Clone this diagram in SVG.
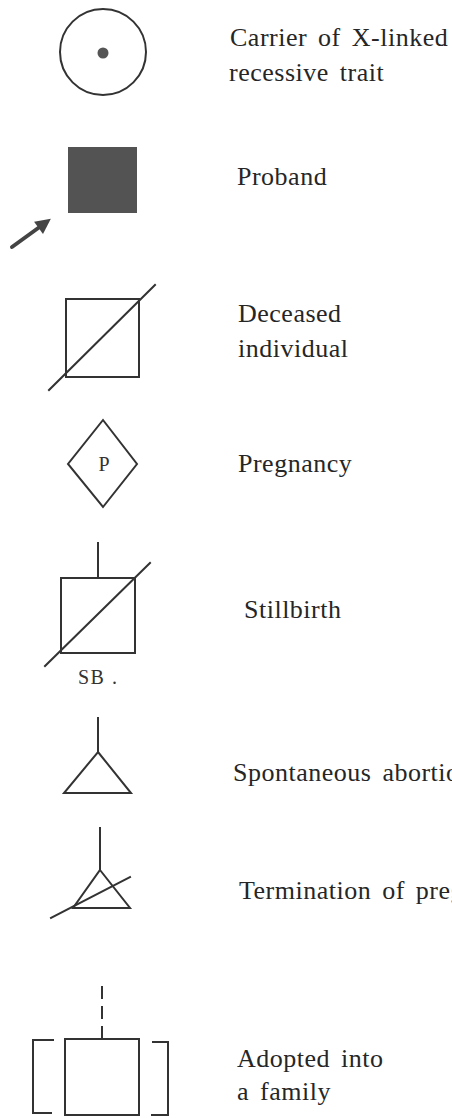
<svg xmlns="http://www.w3.org/2000/svg" width="452" height="1118" viewBox="0 0 452 1118">
<defs>
<style>
.sym{fill:none;stroke:#333;stroke-width:2;stroke-linecap:square}
.lbl{font-family:"Liberation Serif","Times New Roman",serif;font-size:26px;fill:#262626;letter-spacing:0.5px;word-spacing:4px}
.sm{font-family:"Liberation Serif","Times New Roman",serif;font-size:20px;fill:#333}
</style>
<marker id="ah" viewBox="0 0 10 10" refX="2" refY="5" markerWidth="4.5" markerHeight="3.8" orient="auto" markerUnits="strokeWidth">
<path d="M0,0 L10,5 L0,10 z" fill="#444"/>
</marker>
</defs>
<rect width="452" height="1118" fill="#fff"/>
<g id="connectors"></g>
<g id="carrier">
<circle class="sym" cx="103" cy="52" r="43"/>
<circle cx="103" cy="53" r="5.5" fill="#555"/>
<text class="lbl" x="230" y="46">Carrier of X-linked</text>
<text class="lbl" x="229" y="81">recessive trait</text>
</g>
<g id="proband">
<rect x="68" y="147" width="69" height="66" fill="#535353"/>
<line x1="12" y1="247" x2="41" y2="226" stroke="#444" stroke-width="4" stroke-linecap="round" marker-end="url(#ah)"/>
<text class="lbl" x="237" y="185">Proband</text>
</g>
<g id="deceased">
<rect class="sym" x="66" y="299" width="73" height="78"/>
<line class="sym" x1="49" y1="390" x2="155" y2="285"/>
<text class="lbl" x="238" y="322">Deceased</text>
<text class="lbl" x="238" y="357">individual</text>
</g>
<g id="pregnancy">
<polygon class="sym" points="103,420 137,464 103,507 68,464"/>
<text class="sm" x="104" y="471" text-anchor="middle">P</text>
<text class="lbl" x="238" y="472">Pregnancy</text>
</g>
<g id="stillbirth">
<line class="sym" x1="98" y1="543" x2="98" y2="578"/>
<rect class="sym" x="61" y="578" width="74" height="75"/>
<line class="sym" x1="45" y1="666" x2="150" y2="563"/>
<text class="sm" x="78" y="684" letter-spacing="1.5">SB .</text>
<text class="lbl" x="244" y="618">Stillbirth</text>
</g>
<g id="spontaneous-abortion">
<line class="sym" x1="98" y1="718" x2="98" y2="752"/>
<polygon class="sym" points="98,752 131,793 64,793"/>
<text class="lbl" x="233" y="781">Spontaneous abortion</text>
</g>
<g id="termination">
<line class="sym" x1="100" y1="828" x2="100" y2="870"/>
<polygon class="sym" points="100,870 130,908 73,908"/>
<line class="sym" x1="51" y1="918" x2="130" y2="877"/>
<text class="lbl" x="239" y="899">Termination of pregnancy</text>
</g>
<g id="adopted">
<line class="sym" x1="102" y1="987" x2="102" y2="1039" stroke-dasharray="11,9" stroke-linecap="butt"/>
<rect class="sym" x="65" y="1039" width="74" height="76"/>
<polyline class="sym" points="53,1040 33,1040 33,1113 51,1113"/>
<polyline class="sym" points="153,1042 168,1042 168,1115 152,1115"/>
<text class="lbl" x="237" y="1067">Adopted into</text>
<text class="lbl" x="237" y="1100">a family</text>
</g>
</svg>
